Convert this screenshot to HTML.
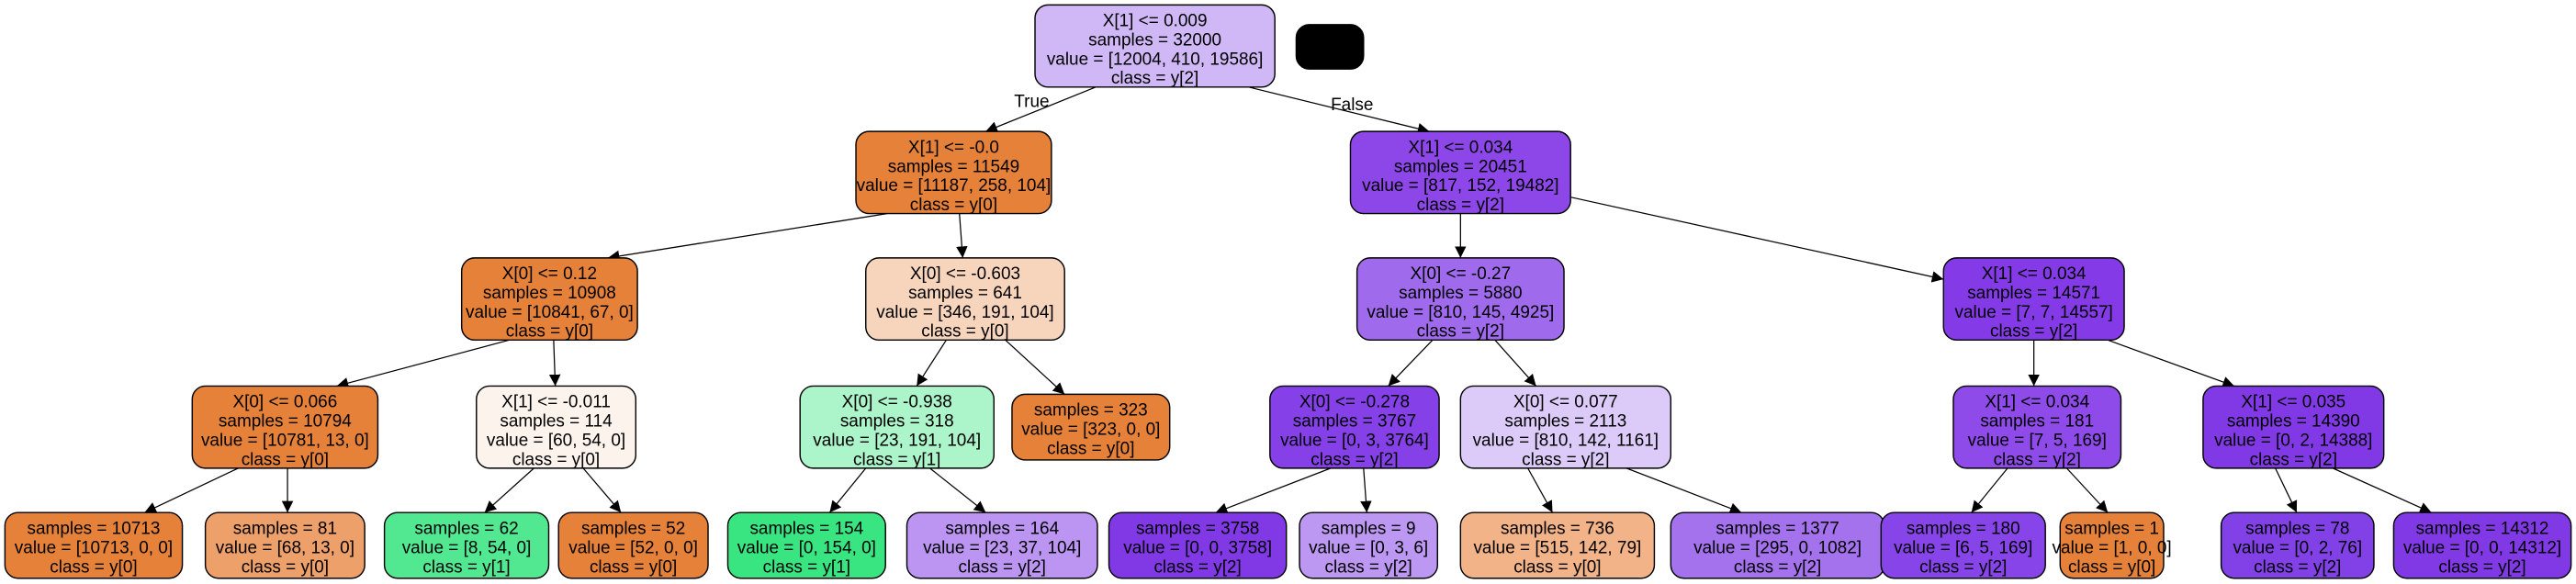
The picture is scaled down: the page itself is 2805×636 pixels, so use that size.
<!DOCTYPE html>
<html><head><meta charset="utf-8"><style>
html,body{margin:0;padding:0;background:#fff;}
svg{display:block;}
text{font-family:"Liberation Sans",sans-serif;font-size:10.6px;text-anchor:middle;fill:#000;}
rect{stroke:#000;stroke-width:0.8;}
line{stroke:#000;stroke-width:0.7;}
</style></head><body>
<svg width="2805" height="636" viewBox="0 0 1568 355.5" preserveAspectRatio="none" xmlns="http://www.w3.org/2000/svg">
<defs><marker id="a" viewBox="0 0 10 10" refX="10" refY="5" markerWidth="7" markerHeight="7" orient="auto" markerUnits="userSpaceOnUse"><path d="M0,0L10,5L0,10z" fill="#000"/></marker></defs>
<g marker-end="url(#a)">
<line x1="667" y1="53" x2="600" y2="80"/>
<line x1="760" y1="53" x2="870" y2="80"/>
<line x1="540" y1="130" x2="370" y2="157"/>
<line x1="584" y1="130" x2="586" y2="157"/>
<line x1="889" y1="130" x2="889" y2="157"/>
<line x1="956" y1="120" x2="1183" y2="170"/>
<line x1="310" y1="207" x2="205" y2="235"/>
<line x1="337" y1="207" x2="338" y2="235"/>
<line x1="576" y1="207" x2="558" y2="235"/>
<line x1="612" y1="207" x2="648" y2="240"/>
<line x1="872" y1="207" x2="845" y2="235"/>
<line x1="910" y1="207" x2="935" y2="235"/>
<line x1="1238" y1="207" x2="1238" y2="235"/>
<line x1="1283" y1="207" x2="1360" y2="235"/>
<line x1="145" y1="285" x2="88" y2="312"/>
<line x1="175" y1="285" x2="175" y2="312"/>
<line x1="325" y1="285" x2="295" y2="312"/>
<line x1="355" y1="285" x2="378" y2="312"/>
<line x1="527" y1="285" x2="505" y2="312"/>
<line x1="566" y1="285" x2="600" y2="312"/>
<line x1="810" y1="285" x2="740" y2="312"/>
<line x1="830" y1="285" x2="832" y2="312"/>
<line x1="930" y1="285" x2="945" y2="312"/>
<line x1="990" y1="285" x2="1060" y2="312"/>
<line x1="1222" y1="285" x2="1200" y2="312"/>
<line x1="1258" y1="285" x2="1283" y2="312"/>
<line x1="1385" y1="285" x2="1398" y2="312"/>
<line x1="1420" y1="285" x2="1480" y2="312"/>
</g>
<text x="628" y="65">True</text>
<text x="823" y="67">False</text>
<rect x="789" y="15" width="41" height="27" rx="8" fill="#000"/>

<!-- 4-line nodes -->
<rect x="630" y="3" width="146" height="50" rx="8" fill="#d0b8f6"/>
<text x="703" y="16">X[1] &lt;= 0.009</text><text x="703" y="27.7">samples = 32000</text><text x="703" y="39.4">value = [12004, 410, 19586]</text><text x="703" y="51">class = y[2]</text>

<rect x="521" y="80" width="119" height="50" rx="8" fill="#e58139"/>
<text x="580.5" y="93">X[1] &lt;= -0.0</text><text x="580.5" y="104.7">samples = 11549</text><text x="580.5" y="116.4">value = [11187, 258, 104]</text><text x="580.5" y="128">class = y[0]</text>

<rect x="822" y="80" width="134" height="50" rx="8" fill="#8d47e9"/>
<text x="889" y="93">X[1] &lt;= 0.034</text><text x="889" y="104.7">samples = 20451</text><text x="889" y="116.4">value = [817, 152, 19482]</text><text x="889" y="128">class = y[2]</text>

<rect x="281" y="157" width="107" height="50" rx="8" fill="#e58139"/>
<text x="334.5" y="170">X[0] &lt;= 0.12</text><text x="334.5" y="181.7">samples = 10908</text><text x="334.5" y="193.4">value = [10841, 67, 0]</text><text x="334.5" y="205">class = y[0]</text>

<rect x="527" y="157" width="121" height="50" rx="8" fill="#f7d5bc"/>
<text x="587.5" y="170">X[0] &lt;= -0.603</text><text x="587.5" y="181.7">samples = 641</text><text x="587.5" y="193.4">value = [346, 191, 104]</text><text x="587.5" y="205">class = y[0]</text>

<rect x="826" y="157" width="126" height="50" rx="8" fill="#a06aec"/>
<text x="889" y="170">X[0] &lt;= -0.27</text><text x="889" y="181.7">samples = 5880</text><text x="889" y="193.4">value = [810, 145, 4925]</text><text x="889" y="205">class = y[2]</text>

<rect x="1183" y="157" width="110" height="50" rx="8" fill="#843ae7"/>
<text x="1238" y="170">X[1] &lt;= 0.034</text><text x="1238" y="181.7">samples = 14571</text><text x="1238" y="193.4">value = [7, 7, 14557]</text><text x="1238" y="205">class = y[2]</text>

<rect x="117" y="235" width="113" height="50" rx="8" fill="#e58139"/>
<text x="173.5" y="248">X[0] &lt;= 0.066</text><text x="173.5" y="259.7">samples = 10794</text><text x="173.5" y="271.4">value = [10781, 13, 0]</text><text x="173.5" y="283">class = y[0]</text>

<rect x="290" y="235" width="97" height="50" rx="8" fill="#fdf3ed"/>
<text x="338.5" y="248">X[1] &lt;= -0.011</text><text x="338.5" y="259.7">samples = 114</text><text x="338.5" y="271.4">value = [60, 54, 0]</text><text x="338.5" y="283">class = y[0]</text>

<rect x="487" y="235" width="118" height="50" rx="8" fill="#acf4c9"/>
<text x="546" y="248">X[0] &lt;= -0.938</text><text x="546" y="259.7">samples = 318</text><text x="546" y="271.4">value = [23, 191, 104]</text><text x="546" y="283">class = y[1]</text>

<rect x="773" y="235" width="103" height="50" rx="8" fill="#8540e8"/>
<text x="824.5" y="248">X[0] &lt;= -0.278</text><text x="824.5" y="259.7">samples = 3767</text><text x="824.5" y="271.4">value = [0, 3, 3764]</text><text x="824.5" y="283">class = y[2]</text>

<rect x="889" y="235" width="128" height="50" rx="8" fill="#dccbf8"/>
<text x="953" y="248">X[0] &lt;= 0.077</text><text x="953" y="259.7">samples = 2113</text><text x="953" y="271.4">value = [810, 142, 1161]</text><text x="953" y="283">class = y[2]</text>

<rect x="1189" y="235" width="102" height="50" rx="8" fill="#8f4aea"/>
<text x="1240" y="248">X[1] &lt;= 0.034</text><text x="1240" y="259.7">samples = 181</text><text x="1240" y="271.4">value = [7, 5, 169]</text><text x="1240" y="283">class = y[2]</text>

<rect x="1341" y="235" width="110" height="50" rx="8" fill="#8139e5"/>
<text x="1396" y="248">X[1] &lt;= 0.035</text><text x="1396" y="259.7">samples = 14390</text><text x="1396" y="271.4">value = [0, 2, 14388]</text><text x="1396" y="283">class = y[2]</text>

<!-- 3-line leaves -->
<rect x="616" y="240" width="96" height="40" rx="8" fill="#e58139"/>
<text x="664" y="253">samples = 323</text><text x="664" y="264.7">value = [323, 0, 0]</text><text x="664" y="276.4">class = y[0]</text>

<rect x="3" y="312" width="108" height="40" rx="8" fill="#e58139"/>
<text x="57" y="325">samples = 10713</text><text x="57" y="336.7">value = [10713, 0, 0]</text><text x="57" y="348.4">class = y[0]</text>

<rect x="125" y="312" width="97" height="40" rx="8" fill="#eda06a"/>
<text x="173.5" y="325">samples = 81</text><text x="173.5" y="336.7">value = [68, 13, 0]</text><text x="173.5" y="348.4">class = y[0]</text>

<rect x="234" y="312" width="100" height="40" rx="8" fill="#52e891"/>
<text x="284" y="325">samples = 62</text><text x="284" y="336.7">value = [8, 54, 0]</text><text x="284" y="348.4">class = y[1]</text>

<rect x="340" y="312" width="91" height="40" rx="8" fill="#e58139"/>
<text x="385.5" y="325">samples = 52</text><text x="385.5" y="336.7">value = [52, 0, 0]</text><text x="385.5" y="348.4">class = y[0]</text>

<rect x="443" y="312" width="96" height="40" rx="8" fill="#39e581"/>
<text x="491" y="325">samples = 154</text><text x="491" y="336.7">value = [0, 154, 0]</text><text x="491" y="348.4">class = y[1]</text>

<rect x="552" y="312" width="116" height="40" rx="8" fill="#bb95f1"/>
<text x="610" y="325">samples = 164</text><text x="610" y="336.7">value = [23, 37, 104]</text><text x="610" y="348.4">class = y[2]</text>

<rect x="675" y="312" width="108" height="40" rx="8" fill="#8139e5"/>
<text x="729" y="325">samples = 3758</text><text x="729" y="336.7">value = [0, 0, 3758]</text><text x="729" y="348.4">class = y[2]</text>

<rect x="791" y="312" width="84" height="40" rx="8" fill="#bd98f2"/>
<text x="833" y="325">samples = 9</text><text x="833" y="336.7">value = [0, 3, 6]</text><text x="833" y="348.4">class = y[2]</text>

<rect x="889" y="312" width="118" height="40" rx="8" fill="#f1b387"/>
<text x="948" y="325">samples = 736</text><text x="948" y="336.7">value = [515, 142, 79]</text><text x="948" y="348.4">class = y[0]</text>

<rect x="1017" y="312" width="130" height="40" rx="8" fill="#a572ed"/>
<text x="1082" y="325">samples = 1377</text><text x="1082" y="336.7">value = [295, 0, 1082]</text><text x="1082" y="348.4">class = y[2]</text>

<rect x="1145" y="312" width="100" height="40" rx="8" fill="#8744e8"/>
<text x="1195" y="325">samples = 180</text><text x="1195" y="336.7">value = [6, 5, 169]</text><text x="1195" y="348.4">class = y[2]</text>

<rect x="1254" y="312" width="63" height="40" rx="8" fill="#e58139"/>
<text x="1285.5" y="325">samples = 1</text><text x="1285.5" y="336.7">value = [1, 0, 0]</text><text x="1285.5" y="348.4">class = y[0]</text>

<rect x="1352" y="312" width="93" height="40" rx="8" fill="#8241e6"/>
<text x="1398.5" y="325">samples = 78</text><text x="1398.5" y="336.7">value = [0, 2, 76]</text><text x="1398.5" y="348.4">class = y[2]</text>

<rect x="1457" y="312" width="108" height="40" rx="8" fill="#8139e5"/>
<text x="1511" y="325">samples = 14312</text><text x="1511" y="336.7">value = [0, 0, 14312]</text><text x="1511" y="348.4">class = y[2]</text>
</svg>
</body></html>
